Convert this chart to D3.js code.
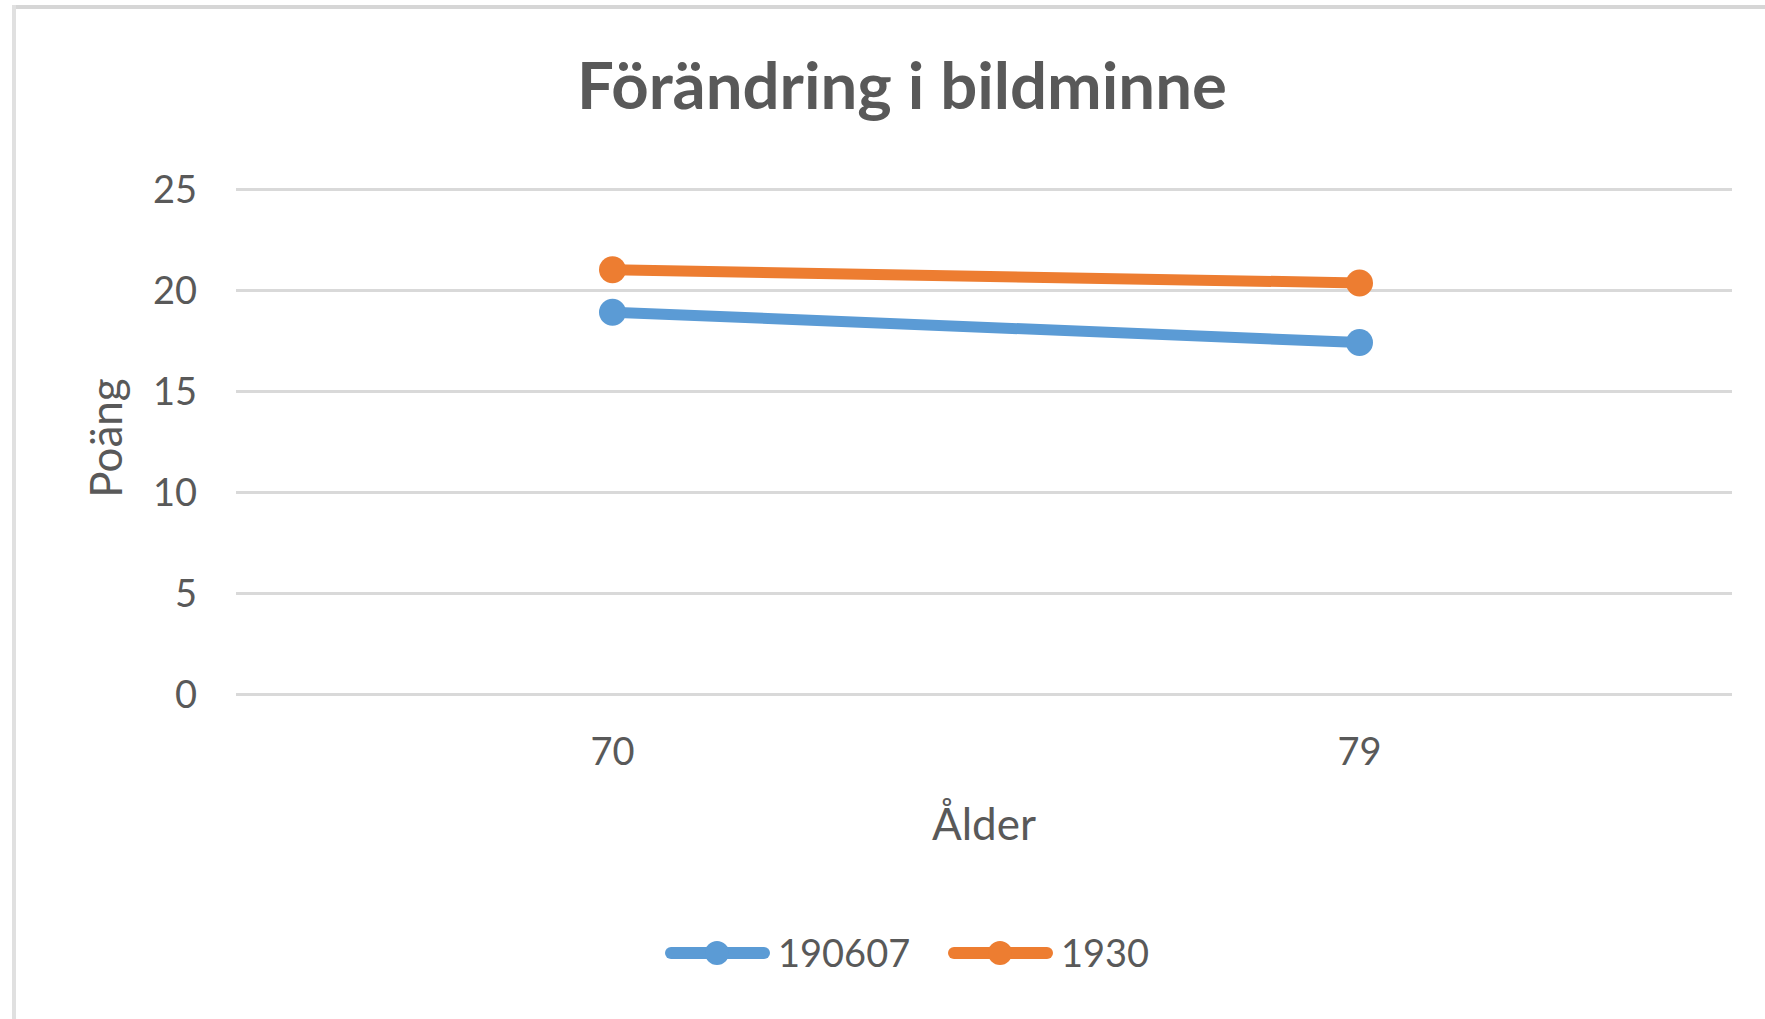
<!DOCTYPE html>
<html>
<head>
<meta charset="utf-8">
<script src="https://cdn.jsdelivr.net/npm/d3@7"></script>
<style>
  body { margin: 0; background: #fff; }
  svg { display: block; font-family: Lato, "Open Sans", sans-serif; }
</style>
</head>
<body>
<svg id="chart" width="1765" height="1019"></svg>
<script>
// data
var ages = ["70", "79"];
var seriesNames = ["190607", "1930"];
var values190607 = [18.9, 17.4];
var values1930 = [21.0, 20.35];
var yTicks = [0, 5, 10, 15, 20, 25];
var colors = ["#5B9BD5", "#ED7D31"];

var textColor = "#595959";
var gridColor = "#d9d9d9";

var svg = d3.select("#chart");
var margin = { top: 189, left: 236, right: 33, bottom: 325 };
var width = 1765 - margin.left - margin.right;
var height = 1019 - margin.top - margin.bottom;

// outer frame (top and left edges visible)
svg.append("rect").attr("x", 12).attr("y", 5).attr("width", 1765).attr("height", 4).attr("fill", "#d6d6d6");
svg.append("rect").attr("x", 12).attr("y", 5).attr("width", 4).attr("height", 1014).attr("fill", "#e0e0e0");

var g = svg.append("g").attr("transform", "translate(" + margin.left + "," + margin.top + ")");

var x = d3.scaleBand().domain(ages).range([3, width + 1]);
var y = d3.scaleLinear().domain([0, 25]).range([height, 0]);

// gridlines
var yAxis = g.append("g")
  .call(d3.axisLeft(y).tickValues(yTicks).tickSize(-width).tickPadding(39).tickFormat(d3.format("d")));
yAxis.select(".domain").remove();
yAxis.selectAll(".tick line").attr("stroke", gridColor).attr("stroke-width", 3);
yAxis.selectAll(".tick text")
  .attr("fill", textColor).attr("font-size", 38).attr("font-family", "Lato").attr("dy", "0.36em");

// x labels
var xAxis = g.append("g").attr("transform", "translate(0," + height + ")")
  .call(d3.axisBottom(x).tickSize(0).tickPadding(0));
xAxis.select(".domain").remove();
xAxis.selectAll(".tick text")
  .attr("fill", textColor).attr("font-size", 38).attr("font-family", "Lato")
  .attr("dy", null).attr("y", 71);

// lines
var allSeries = [values190607, values1930];
var line = d3.line()
  .x(function (d, i) { return x(ages[i]) + x.bandwidth() / 2; })
  .y(function (d) { return y(d); });

allSeries.forEach(function (vals, s) {
  g.append("path")
    .datum(vals)
    .attr("fill", "none")
    .attr("stroke", colors[s])
    .attr("stroke-width", 11)
    .attr("stroke-linecap", "round")
    .attr("d", line);
  g.selectAll(".pt" + s)
    .data(vals)
    .enter().append("circle")
    .attr("cx", function (d, i) { return x(ages[i]) + x.bandwidth() / 2; })
    .attr("cy", function (d) { return y(d); })
    .attr("r", 13.5)
    .attr("fill", colors[s]);
});

// title
var title = svg.append("text")
  .attr("x", 902).attr("y", 109)
  .attr("text-anchor", "middle")
  .attr("fill", textColor)
  .attr("font-weight", 700)
  .attr("font-size", 60)
  .text("Förändring i bildminne");
var tw = title.node().getComputedTextLength();
title.attr("font-size", 60 * 650 / tw);

// axis titles
svg.append("text")
  .attr("transform", "translate(122,438) rotate(-90)")
  .attr("text-anchor", "middle")
  .attr("fill", textColor)
  .attr("font-size", 44)
  .text("Poäng");

svg.append("text")
  .attr("x", margin.left + width / 2).attr("y", 840)
  .attr("text-anchor", "middle")
  .attr("fill", textColor)
  .attr("font-size", 44)
  .text("Ålder");

// legend
var legendX = [665, 948];
seriesNames.forEach(function (name, s) {
  var lg = svg.append("g").attr("transform", "translate(" + legendX[s] + ",953)");
  lg.append("line")
    .attr("x1", 6).attr("x2", 99)
    .attr("stroke", colors[s]).attr("stroke-width", 12).attr("stroke-linecap", "round");
  lg.append("circle").attr("cx", 52).attr("r", 12).attr("fill", colors[s]);
  lg.append("text")
    .attr("x", 113).attr("y", 14)
    .attr("fill", textColor)
    .attr("font-size", 38)
    .text(name);
});
</script>
</body>
</html>
